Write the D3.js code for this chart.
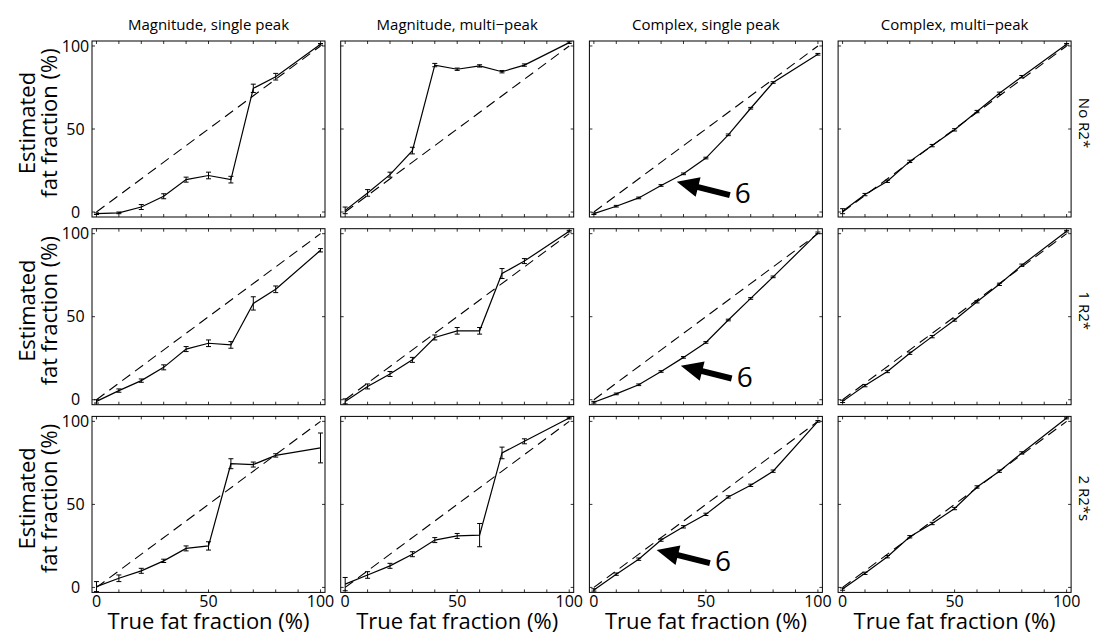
<!DOCTYPE html>
<html>
<head>
<meta charset="utf-8">
<script src="https://cdn.jsdelivr.net/npm/d3@7"></script>
<style>
body { margin: 0; background: #fff; }
text { font-family: "Open Sans", sans-serif; fill: #000; }
</style>
</head>
<body>
<svg id="chart" width="1095" height="636"></svg>
<script>
// true fat fraction of each phantom vial (%)
var trueFat = [0, 10, 20, 30, 40, 50, 60, 70, 80, 100];
var columnTitles = ['Magnitude, single peak', 'Magnitude, multi\u2212peak', 'Complex, single peak', 'Complex, multi\u2212peak'];
var rowTitles = ['No R2*', '1 R2*', '2 R2*s'];
var tickLabels = [0, 50, 100];
var tickMarks = [0, 10, 20, 30, 40, 50, 60, 70, 80, 90, 100];

// estimated fat fraction (%) and error bar half-length, row "No R2*"
var noR2MagSingle = [-1, -0.5, 3, 9.5, 19.5, 22, 19.5, 74.5, 81.5, 101];
var noR2MagSingleErr = [0.5, 0.5, 1.5, 1.5, 1.5, 2, 2, 2.5, 2, 0.5];
var noR2MagMulti = [1, 11.5, 22.5, 37, 88.5, 86, 88, 84.5, 88.5, 102];
var noR2MagMultiErr = [2, 2, 1.5, 2, 1, 0.7, 0.7, 0.7, 0.7, 0.5];
var noR2CplxSingle = [-1, 3.5, 8.5, 16, 23, 32.5, 46.5, 62.5, 78, 95];
var noR2CplxSingleErr = [0.5, 0.5, 0.5, 0.5, 0.5, 0.5, 0.5, 0.5, 0.5, 0.5];
var noR2CplxMulti = [0.5, 10.5, 18.5, 30.5, 40, 49.5, 60.5, 71.5, 81.5, 101];
var noR2CplxMultiErr = [1.5, 0.7, 0.7, 0.7, 0.7, 0.7, 0.7, 0.7, 0.7, 0.5];

// row "1 R2*"
var oneR2MagSingle = [-1, 5.5, 11.5, 19.5, 30.5, 34, 33, 58, 66.5, 90];
var oneR2MagSingleErr = [1, 1, 1, 1.5, 1.5, 2, 2, 4, 2, 1];
var oneR2MagMulti = [-1, 8, 15.5, 24, 37.5, 41.5, 41.5, 76, 83.5, 101.5];
var oneR2MagMultiErr = [1.5, 1.5, 1.5, 1.5, 1.5, 2, 2, 3, 1.5, 0.5];
var oneR2CplxSingle = [-1.5, 3.5, 9, 17, 25.5, 34.5, 48, 61, 74, 100.5];
var oneR2CplxSingleErr = [0.5, 0.5, 0.5, 0.5, 0.5, 0.5, 0.5, 0.5, 0.5, 0.5];
var oneR2CplxMulti = [-1, 8.5, 17, 28, 38, 48, 59, 69.5, 81, 101.5];
var oneR2CplxMultiErr = [0.7, 0.7, 0.7, 0.7, 0.7, 0.7, 0.7, 0.7, 0.7, 0.5];

// row "2 R2*s"
var twoR2MagSingle = [0.5, 5.5, 10, 16, 23.5, 25, 74.5, 74, 79.5, 84];
var twoR2MagSingleErr = [3, 2, 1.5, 1, 1.5, 2.5, 3, 1.5, 1, 9];
var twoR2MagMulti = [2, 7.5, 13, 20, 28.5, 31, 31.5, 81, 88, 102];
var twoR2MagMultiErr = [4, 2, 1.5, 1.5, 1.5, 1.5, 7, 3.5, 1.5, 0.5];
var twoR2CplxSingle = [-1.5, 8, 17, 28.5, 36.5, 44, 54.5, 61.5, 70, 100];
var twoR2CplxSingleErr = [0.7, 0.7, 0.7, 0.7, 0.7, 0.7, 0.7, 0.7, 0.7, 0.5];
var twoR2CplxMulti = [-1, 8.5, 18.5, 30.5, 38.5, 47.5, 60.5, 70, 81, 102];
var twoR2CplxMultiErr = [0.7, 0.7, 0.7, 0.7, 0.7, 0.7, 0.7, 0.7, 0.7, 0.5];

// arrows in the "Complex, single peak" column (data units): tip, tail
var arrowTips = [[37, 18.3], [38.8, 20.4], [28, 22.6]];
var arrowTails = [[60.7, 10.2], [61.5, 12.8], [51.8, 14.6]];
var arrowLabel = '6';

var values = [
  [noR2MagSingle, noR2MagMulti, noR2CplxSingle, noR2CplxMulti],
  [oneR2MagSingle, oneR2MagMulti, oneR2CplxSingle, oneR2CplxMulti],
  [twoR2MagSingle, twoR2MagMulti, twoR2CplxSingle, twoR2CplxMulti]
];
var errors = [
  [noR2MagSingleErr, noR2MagMultiErr, noR2CplxSingleErr, noR2CplxMultiErr],
  [oneR2MagSingleErr, oneR2MagMultiErr, oneR2CplxSingleErr, oneR2CplxMultiErr],
  [twoR2MagSingleErr, twoR2MagMultiErr, twoR2CplxSingleErr, twoR2CplxMultiErr]
];

var svg = d3.select('#chart');
var plotW = 233, plotH = 176;
var left0 = 92, colStep = 248.7;
var top0 = 41, rowStep = 187.7;

var x = d3.scaleLinear().domain([-2, 102]).range([0, plotW]);
var y = d3.scaleLinear().domain([-3, 103]).range([plotH, 0]);

var line = d3.line()
  .x(function(d) { return x(d[0]); })
  .y(function(d) { return y(d[1]); });

for (var r = 0; r < rowTitles.length; r++) {
  for (var c = 0; c < columnTitles.length; c++) {
    var g = svg.append('g')
      .attr('transform', 'translate(' + (left0 + c * colStep) + ',' + (top0 + r * rowStep) + ')');

    // inside tick marks
    g.selectAll('.xt').data(tickMarks).enter().append('path')
      .attr('d', function(d) {
        return 'M' + x(d) + ',' + plotH + 'v-3M' + x(d) + ',0v3';
      })
      .attr('stroke', '#000').attr('stroke-width', 0.8);
    g.selectAll('.yt').data(tickLabels).enter().append('path')
      .attr('d', function(d) {
        return 'M0,' + y(d) + 'h3M' + plotW + ',' + y(d) + 'h-3';
      })
      .attr('stroke', '#000').attr('stroke-width', 0.8);

    // identity line
    g.append('path')
      .attr('d', line([[0, 0], [100, 100]]))
      .attr('fill', 'none')
      .attr('stroke', '#000')
      .attr('stroke-width', 1.1)
      .attr('stroke-dasharray', '10,6');

    var pts = trueFat.map(function(t, i) { return [t, values[r][c][i], errors[r][c][i]]; });

    g.append('path')
      .attr('d', line(pts))
      .attr('fill', 'none')
      .attr('stroke', '#000')
      .attr('stroke-width', 1.2);

    // error bars
    g.selectAll('.err').data(pts).enter().append('path')
      .attr('d', function(d) {
        var px = x(d[0]), y1 = y(d[1] - d[2]), y2 = y(d[1] + d[2]);
        return 'M' + px + ',' + y1 + 'V' + y2 +
          'M' + (px - 2.5) + ',' + y1 + 'h5' +
          'M' + (px - 2.5) + ',' + y2 + 'h5';
      })
      .attr('fill', 'none')
      .attr('stroke', '#000')
      .attr('stroke-width', 1);

    // frame
    g.append('rect')
      .attr('width', plotW).attr('height', plotH)
      .attr('fill', 'none').attr('stroke', '#000').attr('stroke-width', 1);

    if (c == 0) {
      g.selectAll('.yl').data(tickLabels).enter().append('text')
        .attr('x', -16.5)
        .attr('y', function(d) { return y(d); })
        .attr('dy', '0.35em')
        .attr('text-anchor', 'middle')
        .style('font-size', '16px')
        .text(function(d) { return d; });
      var lab = g.append('text')
        .attr('transform', 'translate(0,' + (plotH / 2 - 6) + ') rotate(-90)')
        .attr('text-anchor', 'middle')
        .style('font-size', '22px');
      lab.append('tspan').attr('x', 0).attr('y', 35 - left0).text('Estimated');
      lab.append('tspan').attr('x', 0).attr('y', 57 - left0).text('fat fraction (%)');
    }
    if (r == rowTitles.length - 1) {
      g.selectAll('.xl').data(tickLabels).enter().append('text')
        .attr('x', function(d) { return x(d); })
        .attr('y', plotH + 14.5)
        .attr('text-anchor', 'middle')
        .style('font-size', '16px')
        .text(function(d) { return d; });
      g.append('text')
        .attr('x', plotW / 2)
        .attr('y', plotH + 37)
        .attr('text-anchor', 'middle')
        .style('font-size', '22px')
        .text('True fat fraction (%)');
    }
    if (r == 0) {
      g.append('text')
        .attr('x', plotW / 2)
        .attr('y', -11.5)
        .attr('text-anchor', 'middle')
        .style('font-size', '15px')
        .text(columnTitles[c]);
    }
    if (c == columnTitles.length - 1) {
      g.append('text')
        .attr('transform', 'translate(' + (plotW + 8) + ',' + (plotH / 2 - 6) + ') rotate(90)')
        .attr('text-anchor', 'middle')
        .style('font-size', '15px')
        .text(rowTitles[r]);
    }

    // arrow pointing at the curve
    if (c == 2) {
      var tip = [x(arrowTips[r][0]), y(arrowTips[r][1])];
      var tail = [x(arrowTails[r][0]), y(arrowTails[r][1])];
      var dx = tip[0] - tail[0], dy = tip[1] - tail[1];
      var len = Math.sqrt(dx * dx + dy * dy);
      var ux = dx / len, uy = dy / len, nx = -uy, ny = ux;
      var h = 22, hw = 10, sw = 3;
      var bx = tip[0] - ux * h, by = tip[1] - uy * h;
      var poly = [
        tip,
        [bx + nx * hw, by + ny * hw],
        [bx + nx * sw, by + ny * sw],
        [tail[0] + nx * sw, tail[1] + ny * sw],
        [tail[0] - nx * sw, tail[1] - ny * sw],
        [bx - nx * sw, by - ny * sw],
        [bx - nx * hw, by - ny * hw]
      ];
      g.append('polygon')
        .attr('points', poly.map(function(p) { return p.join(','); }).join(' '))
        .attr('fill', '#000');
      g.append('text')
        .attr('x', tail[0] + 5)
        .attr('y', tail[1] - 2)
        .attr('dy', '0.36em')
        .style('font-size', '28px')
        .text(arrowLabel);
    }
  }
}
</script>
</body>
</html>
